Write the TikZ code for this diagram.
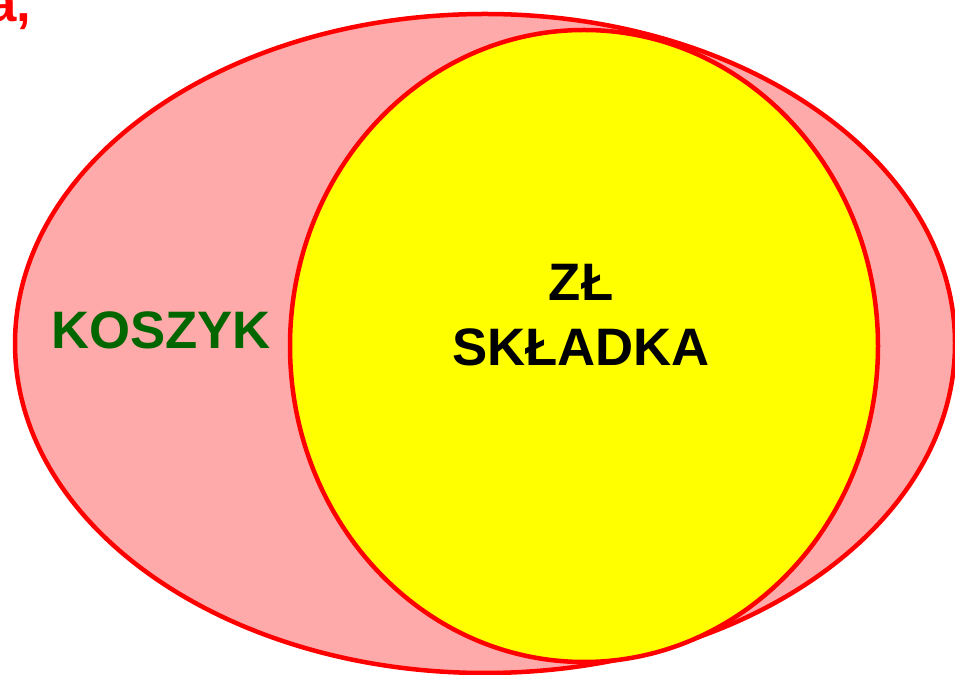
\documentclass[tikz,border=0pt]{standalone}
\usepackage{fontspec}
\setmainfont{Liberation Sans}
\usetikzlibrary{shapes.geometric}
\begin{document}
\begin{tikzpicture}

	%DEFINICJE
	\definecolor{rozowy}{RGB}{255,170,170}
	\definecolor{zolty}{RGB}{255,255,0}
	\definecolor{zielony}{RGB}{0,102,0}
	\tikzstyle{every node}=[font=\fontsize{15}{18.4}\selectfont\bfseries]
	\tikzstyle{zbior} = [draw=red, ellipse, line width=0.045cm, inner sep=0pt]
	\tikzstyle{napis} = [align=center, inner sep=0pt, outer sep=0pt]

	\useasboundingbox (0,0) rectangle (9.55,6.75);
	\clip (0,0) rectangle (9.55,6.75);

	%ZBIORY
	\draw(4.85,3.315) node[zbior, fill=rozowy, minimum width=9.40cm, minimum height=6.59cm](koszyk){};
	\draw(5.84,3.29) node[zbior, fill=zolty, minimum width=5.88cm, minimum height=6.32cm](skladka){};

	%NAPISY
	\draw(1.61,3.45) node[napis, text=zielony](k){KOSZYK};
	\draw(5.81,3.60) node[napis](s){ZŁ\\SKŁADKA};
	\draw(0.31,6.53) node[napis, text=red, anchor=base east](a){a,};	%UCIETY NAPIS
\end{tikzpicture}
\end{document}
